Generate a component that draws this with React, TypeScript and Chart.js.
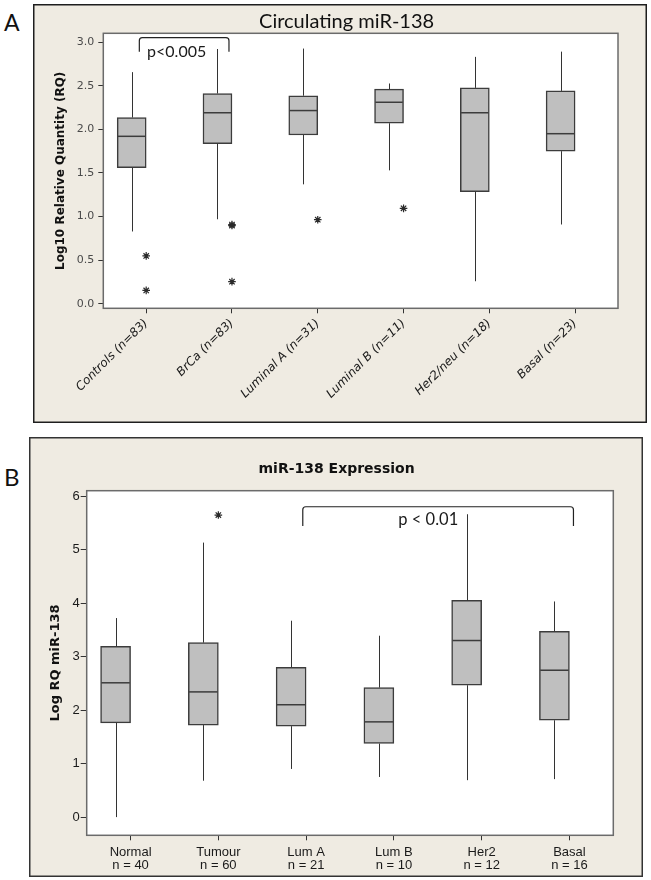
import React, { useEffect, useRef } from 'react';
import { Chart, registerables } from 'chart.js';

Chart.register(...registerables);

// ---------------- Panel A data ----------------
const categoriesA = ['Controls (n=83)', 'BrCa (n=83)', 'Luminal A (n=31)', 'Luminal B (n=11)', 'Her2/neu (n=18)', 'Basal (n=23)'];
const whiskerLowA = [0.83, 0.97, 1.37, 1.53, 0.26, 0.91];
const q1A = [1.56, 1.835, 1.935, 2.07, 1.285, 1.75];
const medianA = [1.92, 2.19, 2.215, 2.31, 2.19, 1.95];
const q3A = [2.135, 2.41, 2.385, 2.46, 2.475, 2.44];
const whiskerHighA = [2.655, 2.92, 2.925, 2.525, 2.83, 2.89];
const outlierGroupA = [0, 0, 1, 1, 1, 2, 3];
const outlierValueA = [0.55, 0.155, 0.91, 0.898, 0.255, 0.965, 1.095];
const yTicksA = [0, 0.5, 1, 1.5, 2, 2.5, 3];
const titleA = 'Circulating miR-138';
const yTitleA = 'Log10 Relative Quantity (RQ)';
const sigA = { from: -0.08, to: 0.965, top: 3.05, end: 2.89, label: 'p<0.005', labelX: 0.355, labelY: 2.885 };

// ---------------- Panel B data ----------------
const categoriesB = [
  ['Normal', 'n = 40'],
  ['Tumour', 'n = 60'],
  ['Lum A', 'n = 21'],
  ['Lum B', 'n = 10'],
  ['Her2', 'n = 12'],
  ['Basal', 'n = 16'],
];
const whiskerLowB = [0.0, 0.68, 0.9, 0.75, 0.69, 0.71];
const q1B = [1.76, 1.72, 1.7, 1.375, 2.465, 1.81];
const medianB = [2.51, 2.34, 2.1, 1.78, 3.3, 2.745];
const q3B = [3.19, 3.26, 2.8, 2.42, 4.05, 3.47];
const whiskerHighB = [3.72, 5.13, 3.67, 3.39, 5.66, 4.03];
const outlierGroupB = [1];
const outlierValueB = [5.645];
const yTicksB = [0, 1, 2, 3, 4, 5, 6];
const titleB = 'miR-138 Expression';
const yTitleB = 'Log RQ miR-138';
const sigB = { from: 1.962, to: 5.046, top: 5.8, end: 5.44, label: 'p < 0.01', labelX: 3.392, labelY: 5.55 };

// ---------------- styles ----------------
const PANEL_BG = '#EFEBE2';
const BOX_FILL = '#BFBFBF';
const BOX_EDGE = '#3c3c3c';
const WHISKER = '#333333';
const FRAME = '#6b6b6b';

function makeDecorPlugin(p: any) {
  return {
    id: 'panelDecor',
    beforeDraw(chart: any) {
      const { ctx, width, height, chartArea: a } = chart;
      ctx.save();
      ctx.fillStyle = PANEL_BG;
      ctx.fillRect(0, 0, width, height);
      ctx.lineWidth = 1.5;
      ctx.strokeStyle = p.panelBorder;
      ctx.strokeRect(0.75, 0.75, width - 1.5, height - 1.5);
      ctx.fillStyle = '#ffffff';
      ctx.fillRect(a.left, a.top, a.right - a.left, a.bottom - a.top);
      ctx.restore();
    },
    afterDatasetsDraw(chart: any) {
      const { ctx, chartArea: a } = chart;
      const ys = chart.scales.y;
      const xo = chart.scales.xo;
      const bars = chart.getDatasetMeta(0).data;
      const line = (x1: number, y1: number, x2: number, y2: number) => {
        ctx.beginPath();
        ctx.moveTo(x1, y1);
        ctx.lineTo(x2, y2);
        ctx.stroke();
      };
      ctx.save();
      ctx.strokeStyle = WHISKER;
      ctx.lineWidth = 1;
      bars.forEach((bar: any, i: number) => {
        const cx = Math.round(bar.x) + 0.5;
        line(cx, ys.getPixelForValue(p.q3[i]), cx, ys.getPixelForValue(p.hi[i]));
        line(cx, ys.getPixelForValue(p.q1[i]), cx, ys.getPixelForValue(p.lo[i]));
      });
      ctx.strokeStyle = BOX_EDGE;
      ctx.lineWidth = 1.5;
      bars.forEach((bar: any, i: number) => {
        const half = bar.width / 2;
        const y = ys.getPixelForValue(p.med[i]);
        line(bar.x - half + 0.75, y, bar.x + half - 0.75, y);
      });
      // plot frame
      ctx.strokeStyle = FRAME;
      ctx.lineWidth = 1.5;
      ctx.strokeRect(a.left, a.top, a.right - a.left, a.bottom - a.top);
      // significance bracket
      const s = p.sig;
      const x0 = xo.getPixelForValue(s.from);
      const x1 = xo.getPixelForValue(s.to);
      const yt = ys.getPixelForValue(s.top);
      const ye = ys.getPixelForValue(s.end);
      ctx.strokeStyle = '#222';
      ctx.lineWidth = 1.2;
      ctx.beginPath();
      ctx.moveTo(x0, ye);
      ctx.arcTo(x0, yt, x1, yt, 3);
      ctx.arcTo(x1, yt, x1, ye, 3);
      ctx.lineTo(x1, ye);
      ctx.stroke();
      ctx.fillStyle = '#1a1a1a';
      ctx.font = p.sigFont;
      ctx.textAlign = 'center';
      ctx.textBaseline = 'middle';
      ctx.fillText(s.label, xo.getPixelForValue(s.labelX), ys.getPixelForValue(s.labelY));
      ctx.restore();
    },
  };
}

function BoxPanel({ p }: { p: any }) {
  const ref = useRef<HTMLCanvasElement | null>(null);
  useEffect(() => {
    if (!ref.current) return;
    const chart = new Chart(ref.current, {
      type: 'bar',
      data: {
        labels: p.cats,
        datasets: [
          {
            type: 'bar',
            data: p.q1.map((v: number, i: number) => [v, p.q3[i]]),
            backgroundColor: BOX_FILL,
            borderColor: BOX_EDGE,
            borderWidth: 1.5,
            borderSkipped: false,
            barThickness: p.barW,
            order: 2,
          } as any,
          {
            type: 'line',
            xAxisID: 'xo',
            data: p.outG.map((g: number, i: number) => ({ x: g, y: p.outV[i] })),
            showLine: false,
            pointStyle: 'star',
            pointRadius: 3.8,
            pointBorderColor: '#2a2a2a',
            pointBorderWidth: 1.2,
            pointBackgroundColor: 'rgba(0,0,0,0)',
            order: 1,
          } as any,
        ],
      },
      options: {
        animation: false,
        responsive: false,
        events: [],
        layout: { padding: { left: p.padL, right: p.padR, top: 0, bottom: 0 } },
        plugins: {
          legend: { display: false },
          tooltip: { enabled: false },
          title: {
            display: true,
            text: p.title,
            font: p.titleFont,
            color: '#111',
            padding: p.titlePad,
          },
        },
        scales: {
          x: {
            type: 'category',
            offset: true,
            grid: { drawOnChartArea: false, drawTicks: true, tickLength: 5, color: '#333', offset: false },
            border: { display: false },
            ticks: p.xTicks,
            afterFit: (s: any) => {
              s.height = p.xH;
            },
          },
          xo: {
            type: 'linear',
            display: false,
            offset: false,
            grid: { offset: false },
            bounds: 'data',
            min: -0.5,
            max: p.cats.length - 0.5,
          },
          y: {
            type: 'linear',
            min: p.yMin,
            max: p.yMax,
            afterBuildTicks: (s: any) => {
              s.ticks = p.yTicks.map((v: number) => ({ value: v }));
            },
            grid: { drawOnChartArea: false, drawTicks: true, tickLength: p.yTickLen, color: '#333' },
            border: { display: false },
            ticks: {
              font: p.yTickFont,
              color: p.yTickColor,
              padding: p.yTickPad,
              callback: p.yFmt,
            },
            title: {
              display: true,
              text: p.yTitle,
              font: p.yTitleFont,
              color: '#111',
              padding: { top: p.yTitlePadTop, bottom: 0 },
            },
            afterFit: (s: any) => {
              s.width = p.yW;
            },
          },
        } as any,
      },
      plugins: [makeDecorPlugin(p)],
    } as any);
    return () => chart.destroy();
  }, []);
  return (
    <canvas
      ref={ref}
      width={p.w}
      height={p.h}
      style={{ position: 'absolute', left: p.left, top: p.top, width: p.w, height: p.h }}
    />
  );
}

const panelA = {
  left: 33, top: 4, w: 614, h: 419,
  cats: categoriesA, lo: whiskerLowA, q1: q1A, med: medianA, q3: q3A, hi: whiskerHighA,
  outG: outlierGroupA, outV: outlierValueA, yTicks: yTicksA, sig: sigA,
  title: titleA, yTitle: yTitleA,
  barW: 29, padL: 42.2, padR: 29, yW: 28.1, xH: 114.7,
  titleFont: { family: 'Lato', size: 20, weight: 'normal', lineHeight: 1.2 },
  titlePad: { top: 5.3, bottom: 0 },
  xTicks: {
    autoSkip: false, minRotation: 45, maxRotation: 45, padding: 3, color: '#1a1a1a',
    font: { family: 'DejaVu Sans', size: 12, style: 'italic' },
  },
  yMin: -0.05, yMax: 3.1, yTickLen: 5, yTickPad: 4, yTickColor: '#4a4a4a',
  yTickFont: { family: 'DejaVu Sans', size: 11 },
  yFmt: (v: any) => Number(v).toFixed(1),
  yTitleFont: { family: 'DejaVu Sans', size: 12, weight: 'bold', lineHeight: 1.2 },
  yTitlePadTop: -21.4,
  sigFont: '16px Lato',
  panelBorder: '#1e1e1e',
};

const panelB = {
  left: 29, top: 437, w: 614, h: 440,
  cats: categoriesB, lo: whiskerLowB, q1: q1B, med: medianB, q3: q3B, hi: whiskerHighB,
  outG: outlierGroupB, outV: outlierValueB, yTicks: yTicksB, sig: sigB,
  title: titleB, yTitle: yTitleB,
  barW: 30, padL: 30.9, padR: 29.7, yW: 26.8, xH: 41.7,
  titleFont: { family: 'DejaVu Sans', size: 14, weight: 'bold', lineHeight: 1.2 },
  titlePad: { top: 23.6, bottom: 13.3 },
  xTicks: {
    autoSkip: false, maxRotation: 0, padding: 5, color: '#1a1a1a',
    font: { family: 'Liberation Sans', size: 13, lineHeight: 1.05 },
  },
  yMin: -0.34, yMax: 6.1, yTickLen: 6, yTickPad: 1, yTickColor: '#1a1a1a',
  yTickFont: { family: 'Liberation Sans', size: 13 },
  yFmt: (v: any) => String(v),
  yTitleFont: { family: 'DejaVu Sans', size: 13, weight: 'bold', lineHeight: 1.2 },
  yTitlePadTop: -11.9,
  sigFont: '16.5px Lato',
  panelBorder: '#333333',
};

export default function App() {
  return (
    <div style={{ position: 'absolute', left: 0, top: 0, width: 651, height: 880, background: '#ffffff', overflow: 'hidden' }}>
      <div style={{ position: 'absolute', left: 4, top: 10, font: '23px Lato', lineHeight: '24px', color: '#111' }}>A</div>
      <div style={{ position: 'absolute', left: 4, top: 465, font: '24px Lato', lineHeight: '24px', color: '#111' }}>B</div>
      <BoxPanel p={panelA} />
      <BoxPanel p={panelB} />
    </div>
  );
}
